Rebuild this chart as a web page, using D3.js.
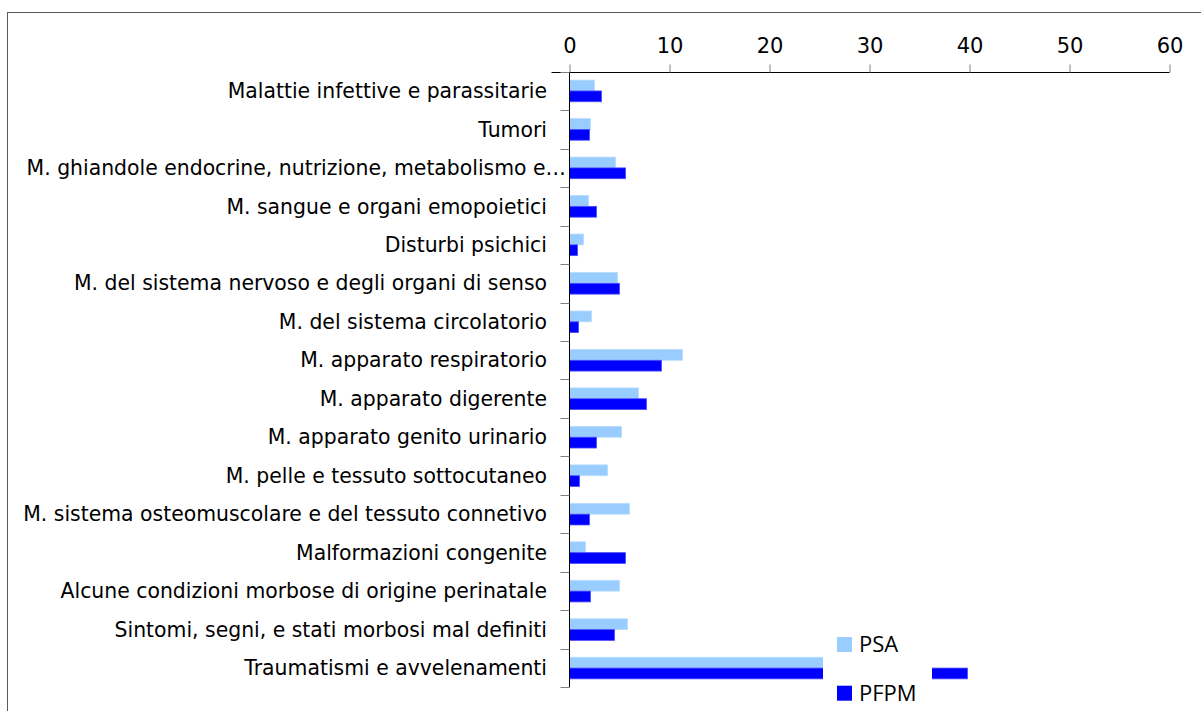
<!DOCTYPE html>
<html>
<head>
<meta charset="utf-8">
<script src="https://cdn.jsdelivr.net/npm/d3@7"></script>
<style>
  html, body { margin: 0; padding: 0; background: #fff; }
  svg { display: block; }
  .cat { font-family: "DejaVu Sans", sans-serif; font-size: 20.4px; fill: #000; }
  .tick text { font-family: "DejaVu Sans", sans-serif; font-size: 21px; fill: #000; }
  .leg { font-family: "Open Sans", sans-serif; font-size: 22px; fill: #000; }
</style>
</head>
<body>
<script>
// Causes of hospitalisation (categories, top to bottom)
const categories = [
  "Malattie infettive e parassitarie",
  "Tumori",
  "M. ghiandole endocrine, nutrizione, metabolismo e…",
  "M. sangue e organi emopoietici",
  "Disturbi psichici",
  "M. del sistema nervoso e degli organi di senso",
  "M. del sistema circolatorio",
  "M. apparato respiratorio",
  "M. apparato digerente",
  "M. apparato genito urinario",
  "M. pelle e tessuto sottocutaneo",
  "M. sistema osteomuscolare e del tessuto connetivo",
  "Malformazioni congenite",
  "Alcune condizioni morbose di origine perinatale",
  "Sintomi, segni, e stati morbosi mal definiti",
  "Traumatismi e avvelenamenti"
];

const seriesNames = ["PSA", "PFPM"];

const psaValues  = [2.5, 2.1, 4.6, 1.9, 1.4, 4.8, 2.2, 11.3, 6.9, 5.2, 3.8, 6.0, 1.6, 5.0, 5.8, 31.0];
const pfpmValues = [3.2, 2.0, 5.6, 2.7, 0.8, 5.0, 0.9, 9.2, 7.7, 2.7, 1.0, 2.0, 5.6, 2.1, 4.5, 39.8];

const xTicks = [0, 10, 20, 30, 40, 50, 60];

const colors = { PSA: "#99ccff", PFPM: "#0000ff" };
const strokes = { PSA: "#b8dcff", PFPM: "#4d4dff" };

const W = 1201, H = 711;
const svg = d3.select("body").append("svg").attr("width", W).attr("height", H);

svg.append("rect").attr("width", W).attr("height", H).attr("fill", "#fff");

// outer frame (continues past the right and bottom edges)
svg.append("rect")
  .attr("x", 7.5).attr("y", 12.5)
  .attr("width", 1400).attr("height", 900)
  .attr("fill", "none").attr("stroke", "#5a5a5a").attr("stroke-width", 1);

const x = d3.scaleLinear().domain([0, 60]).range([569.5, 1169.5]);
const y = d3.scaleBand().domain(categories).range([71.7, 687.3]).padding(0);
const ySub = d3.scaleBand().domain(seriesNames).range([0, y.bandwidth()])
  .paddingInner(0).paddingOuter(0.78);

const rows = categories.map((c, i) => ({ cat: c, PSA: psaValues[i], PFPM: pfpmValues[i] }));

// bars
const g = svg.append("g");
rows.forEach(r => {
  seriesNames.forEach(s => {
    g.append("rect")
      .attr("x", x(0))
      .attr("y", y(r.cat) + ySub(s))
      .attr("width", x(r[s]) - x(0))
      .attr("height", ySub.bandwidth())
      .attr("fill", colors[s])
      .attr("stroke", strokes[s])
      .attr("stroke-width", 0.8);
  });
});

// top value axis
const xAxis = d3.axisTop(x).tickValues(xTicks).tickSize(8).tickPadding(12).tickFormat(d3.format("d"));
const xa = svg.append("g").attr("transform", "translate(0,72.5)").call(xAxis);
xa.select(".domain").attr("stroke", "#000").attr("d", `M${x(0) - 18},0H${x(60)}`);
xa.selectAll(".tick line").attr("stroke", "#808080");

// category axis: boundary tick marks
const ya = svg.append("g");
ya.append("line")
  .attr("x1", x(0)).attr("x2", x(0))
  .attr("y1", 72).attr("y2", y.range()[1])
  .attr("stroke", "#000");
const bounds = categories.map(c => y(c)).concat([y.range()[1]]);
ya.selectAll("line.bt").data(bounds).join("line")
  .attr("class", "bt")
  .attr("x1", x(0) - 9).attr("x2", x(0))
  .attr("y1", d => Math.round(d) + 0.5).attr("y2", d => Math.round(d) + 0.5)
  .attr("stroke", "#808080");

// category labels (the truncated one overhangs toward the axis)
svg.append("g").selectAll("text").data(categories).join("text")
  .attr("class", "cat")
  .attr("x", (d, i) => i === 2 ? 566 : 547)
  .attr("y", d => y(d) + y.bandwidth() / 2)
  .attr("dy", "0.35em")
  .attr("text-anchor", "end")
  .text(d => d);

// legend (opaque box over the plot)
const leg = svg.append("g");
leg.append("rect").attr("x", 823).attr("y", 615).attr("width", 109).attr("height", 100).attr("fill", "#fff");
const legY = [637, 685.7];
seriesNames.forEach((s, i) => {
  leg.append("rect").attr("x", 837).attr("y", legY[i]).attr("width", 15).attr("height", 15).attr("fill", colors[s]);
  leg.append("text").attr("class", "leg").attr("x", 859).attr("y", legY[i] + 15).text(s);
});
</script>
</body>
</html>
